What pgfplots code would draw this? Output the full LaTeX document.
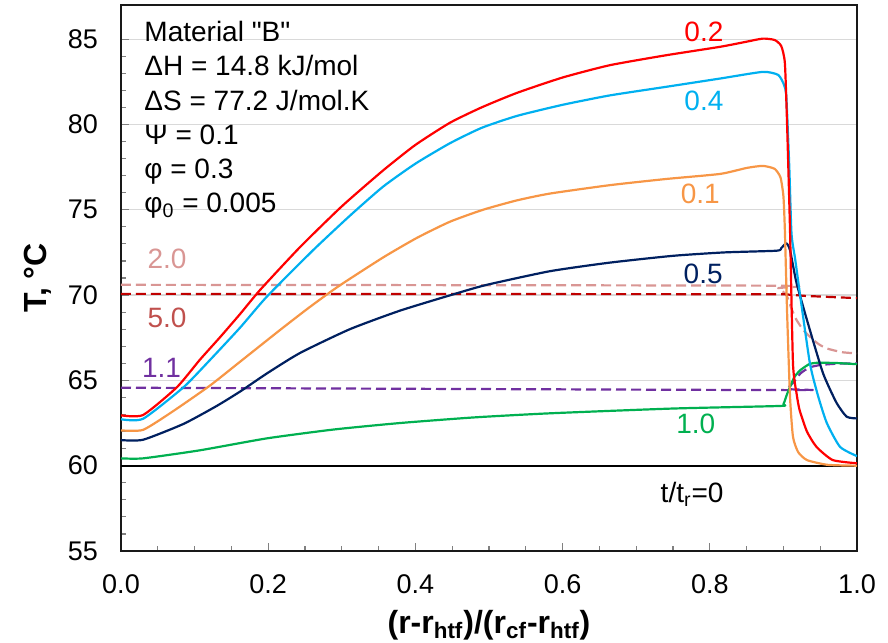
\documentclass[border=0pt]{standalone}
\usepackage{fontspec}
\setmainfont{Liberation Sans}
\newfontfamily\plainfont{Liberation Sans}
\usepackage{pgfplots}
\pgfplotsset{compat=1.18}
\definecolor{cRed}{HTML}{FF0000}
\definecolor{cBlue}{HTML}{00B0F0}
\definecolor{cOrange}{HTML}{F79646}
\definecolor{cNavy}{HTML}{002060}
\definecolor{cGreen}{HTML}{00B050}
\definecolor{cPurple}{HTML}{7030A0}
\definecolor{cPink}{HTML}{D99694}
\definecolor{cDarkRed}{HTML}{C00000}
\definecolor{cLabRed}{HTML}{C0504D}
\begin{document}
\begin{tikzpicture}
\path[use as bounding box] (-60.5pt,-45.5pt) rectangle (383.5pt,275.5pt);
\begin{axis}[
  at={(0,0)}, anchor=south west,
  scale only axis, width=368pt, height=273pt,
  xmin=0, xmax=1, ymin=55, ymax=87,
  xtick={0,0.2,0.4,0.6,0.8,1}, ytick={55,60,65,70,75,80,85},
  minor x tick num=3, minor y tick num=4,
  tick align=inside, tick pos=left,
  major tick length=4pt, minor tick length=2.5pt,
  every tick/.style={black!50, line width=0.6pt},
  ymajorgrids, major grid style={draw=black!15, line width=0.6pt},
  axis line style={draw=black!90, line width=1.4pt},
  /pgf/number format/assume math mode=true,
  tick label style={font=\fontsize{13.5}{16}\selectfont},
  xticklabel style={/pgf/number format/.cd, fixed, fixed zerofill, precision=1, /tikz/.cd, yshift=-8.5pt},
  yticklabel style={xshift=-8pt},
  xlabel={\textbf{(r-r\textsubscript{htf})/(r\textsubscript{cf}-r\textsubscript{htf})}},
  ylabel={\textbf{T, °C}},
  label style={font=\fontsize{16}{19}\selectfont},
  xlabel style={at={(axis description cs:0.5,-0.1502)}, anchor=base},
  ylabel style={at={(axis description cs:-0.1128,0.5)}, anchor=center, rotate=0},
  every axis plot/.append style={line width=1.1pt, line join=round},
]
% dashed lines
\addplot[cPink, dashed, dash pattern=on 5pt off 2.5pt, smooth, tension=0.35] coordinates {
(0,70.6) (0.88,70.55) (0.893,70.4) (0.904,70.0) (0.911,69.2) (0.918,68.53) (0.927,67.95) (0.936,67.56) (0.947,67.15) (0.959,66.87) (0.98,66.65) (1,66.58)};
\addplot[cDarkRed, dashed, dash pattern=on 5pt off 2.5pt] coordinates {
(0,70.07) (0.9,70.05) (0.93,69.95) (1,69.82)};
\addplot[cPurple, dashed, dash pattern=on 5pt off 2.5pt, smooth, tension=0.35] coordinates {
(0,64.57) (0.9,64.43) (0.905,64.5) (0.915,64.95) (0.923,65.4) (0.935,65.75) (0.95,65.9) (0.97,65.97) (1,66.0)};
% t=0
\addplot[black] coordinates {(0,60) (1,60)};
% 1.0 green
\addplot[cGreen, smooth, tension=0.35] coordinates {
(0,60.43) (0.03,60.43) (0.107,60.9) (0.198,61.6) (0.289,62.12) (0.379,62.5) (0.48,62.83) (0.583,63.07) (0.75,63.35) (0.895,63.5) (0.9,63.6) (0.905,64.2) (0.909,64.62) (0.915,65.2) (0.923,65.6) (0.935,65.95) (0.945,66.03) (0.97,66.02) (1,65.95)};
% 0.5 navy
\addplot[cNavy, smooth, tension=0.35] coordinates {
(0,61.5) (0.03,61.52) (0.085,62.45) (0.13,63.5) (0.162,64.35) (0.198,65.4) (0.243,66.6) (0.311,68.0) (0.38,69.1) (0.456,70.1) (0.497,70.6) (0.583,71.4) (0.664,71.9) (0.75,72.3) (0.82,72.5) (0.891,72.6) (0.897,72.75) (0.904,73.03) (0.909,72.63) (0.918,70.68) (0.936,67.95) (0.954,65.4) (0.972,63.7) (0.986,62.87) (1,62.77)};
% 0.1 orange
\addplot[cOrange, smooth, tension=0.35] coordinates {
(0,62.07) (0.03,62.1) (0.071,63.2) (0.121,64.7) (0.162,66.1) (0.216,67.95) (0.255,69.25) (0.295,70.5) (0.356,72.2) (0.402,73.35) (0.447,74.3) (0.492,75.0) (0.538,75.55) (0.583,75.95) (0.664,76.44) (0.74,76.8) (0.814,77.1) (0.85,77.45) (0.872,77.57) (0.888,77.4) (0.896,76.9) (0.9,75.8) (0.902,73.8) (0.905,69) (0.909,64.04) (0.913,61.7) (0.92,60.8) (0.932,60.33) (0.96,60.05) (1,60.0)};
% 0.4 blue
\addplot[cBlue, smooth, tension=0.35] coordinates {
(0,62.72) (0.03,62.75) (0.085,64.6) (0.121,66.2) (0.162,68.1) (0.198,69.9) (0.261,72.63) (0.311,74.65) (0.356,76.35) (0.40,77.7) (0.447,78.9) (0.49,79.8) (0.538,80.5) (0.6,81.15) (0.664,81.7) (0.74,82.2) (0.814,82.69) (0.872,83.08) (0.893,82.9) (0.901,82.3) (0.904,81.6) (0.908,77.5) (0.911,73.6) (0.916,72.1) (0.923,69.9) (0.936,66) (0.947,64.1) (0.959,62.5) (0.977,61.1) (1,60.56)};
% 0.2 red
\addplot[cRed, smooth, tension=0.35] coordinates {
(0,62.95) (0.03,62.97) (0.076,64.6) (0.107,66.2) (0.135,67.55) (0.162,68.9) (0.189,70.3) (0.243,72.8) (0.30,75.2) (0.356,77.3) (0.40,78.8) (0.447,80.1) (0.49,81.0) (0.538,81.85) (0.6,82.75) (0.664,83.47) (0.74,84.05) (0.814,84.55) (0.85,84.85) (0.872,85.03) (0.888,84.95) (0.897,84.6) (0.902,83.6) (0.905,80) (0.909,73.8) (0.913,66) (0.918,64.2) (0.922,63.26) (0.932,62.0) (0.945,61.1) (0.967,60.33) (1,60.14)};
% annotation
\begin{scope}[every node/.style={font=\fontsize{14}{17}\selectfont, inner sep=0pt}]
\node[anchor=base west] at (axis cs:0.0313,84.86) {{\plainfont Material "B"}};
\node[anchor=base west] at (axis cs:0.0313,82.85) {ΔH = 14.8 kJ/mol};
\node[anchor=base west] at (axis cs:0.0313,80.84) {ΔS = 77.2 J/mol.K};
\node[anchor=base west] at (axis cs:0.0313,78.83) {Ψ = 0.1};
\node[anchor=base west] at (axis cs:0.0313,76.82) {φ = 0.3};
\node[anchor=base west] at (axis cs:0.0313,74.81) {φ\textsubscript{0} = 0.005};
\node[anchor=base, text=cRed] at (axis cs:0.792,84.84) {0.2};
\node[anchor=base, text=cBlue] at (axis cs:0.792,80.84) {0.4};
\node[anchor=base, text=cOrange] at (axis cs:0.787,75.39) {0.1};
\node[anchor=base, text=cNavy] at (axis cs:0.791,70.7) {0.5};
\node[anchor=base, text=cGreen] at (axis cs:0.781,61.91) {1.0};
\node[anchor=base] at (axis cs:0.776,57.87) {t/t\textsubscript{r}=0};
\node[anchor=base, text=cPink] at (axis cs:0.0625,71.58) {2.0};
\node[anchor=base, text=cLabRed] at (axis cs:0.0625,68.12) {5.0};
\node[anchor=base, text=cPurple] at (axis cs:0.055,65.19) {1.1};
\end{scope}
\end{axis}
\end{tikzpicture}
\end{document}
